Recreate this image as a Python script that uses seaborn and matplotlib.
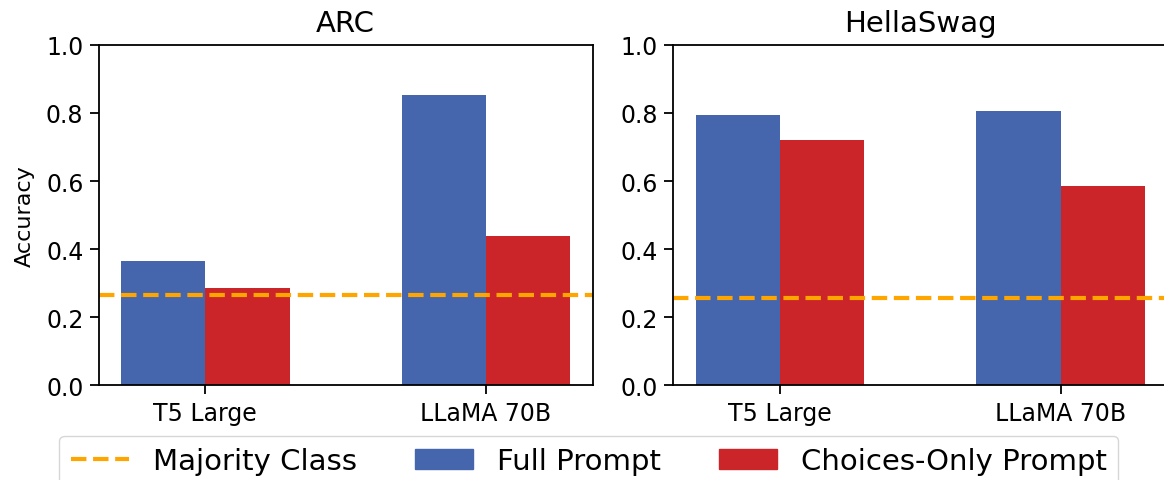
import pandas as pd
import seaborn as sns
import matplotlib.pyplot as plt
import matplotlib.patches as mpatches
from matplotlib.lines import Line2D

# values
models = ["T5 Large", "LLaMA 70B"]
prompts = ["Full Prompt", "Choices-Only Prompt"]
arc_full = [0.365, 0.851]
arc_choices = [0.286, 0.439]
hella_full = [0.793, 0.805]
hella_choices = [0.721, 0.584]
majority = {"ARC": 0.265, "HellaSwag": 0.257}

colors = ["#4565ad", "#cc2529"]
line_color = "orange"


def make_frame(full, choices):
    rows = []
    for m, f, c in zip(models, full, choices):
        rows.append({"Model": m, "Prompt": prompts[0], "Accuracy": f})
        rows.append({"Model": m, "Prompt": prompts[1], "Accuracy": c})
    return pd.DataFrame(rows)


data = {"ARC": make_frame(arc_full, arc_choices),
        "HellaSwag": make_frame(hella_full, hella_choices)}

plt.rcParams["axes.linewidth"] = 1.3
plt.rcParams["xtick.major.size"] = 6.5
plt.rcParams["ytick.major.size"] = 6.5
plt.rcParams["xtick.major.width"] = 1.3
plt.rcParams["ytick.major.width"] = 1.3
plt.rcParams["xtick.major.pad"] = 4.5
plt.rcParams["ytick.major.pad"] = 4.5

fig = plt.figure(figsize=(11.64, 4.81), dpi=100)
ax1 = fig.add_axes([0.0848, 0.1965, 0.4244, 0.7085])
ax2 = fig.add_axes([0.5784, 0.1965, 0.4244, 0.7085])

for ax, name in zip([ax1, ax2], ["ARC", "HellaSwag"]):
    sns.barplot(data=data[name], x="Model", y="Accuracy", hue="Prompt",
                hue_order=prompts, palette=colors, width=0.6,
                errorbar=None, legend=False, ax=ax, saturation=1)
    ax.axhline(majority[name], color=line_color, linestyle="--", linewidth=3)
    ax.set_xlim(-0.38, 1.38)
    ax.set_ylim(0, 1.0)
    ax.set_title(name, fontsize=21, pad=10)
    ax.set_xlabel("")
    ax.tick_params(axis="x", labelsize=17)
    ax.tick_params(axis="y", labelsize=17)

ax1.set_ylabel("Accuracy", fontsize=16, labelpad=8)
ax2.set_ylabel("")

handles = [Line2D([0], [0], color=line_color, linestyle="--", linewidth=3),
           mpatches.Patch(color=colors[0]),
           mpatches.Patch(color=colors[1])]
labels = ["Majority Class"] + prompts
fig.legend(handles, labels, loc="upper center", bbox_to_anchor=(0.506, 0.1227),
           ncol=3, fontsize=21)

fig.savefig("out.png", dpi=100)
